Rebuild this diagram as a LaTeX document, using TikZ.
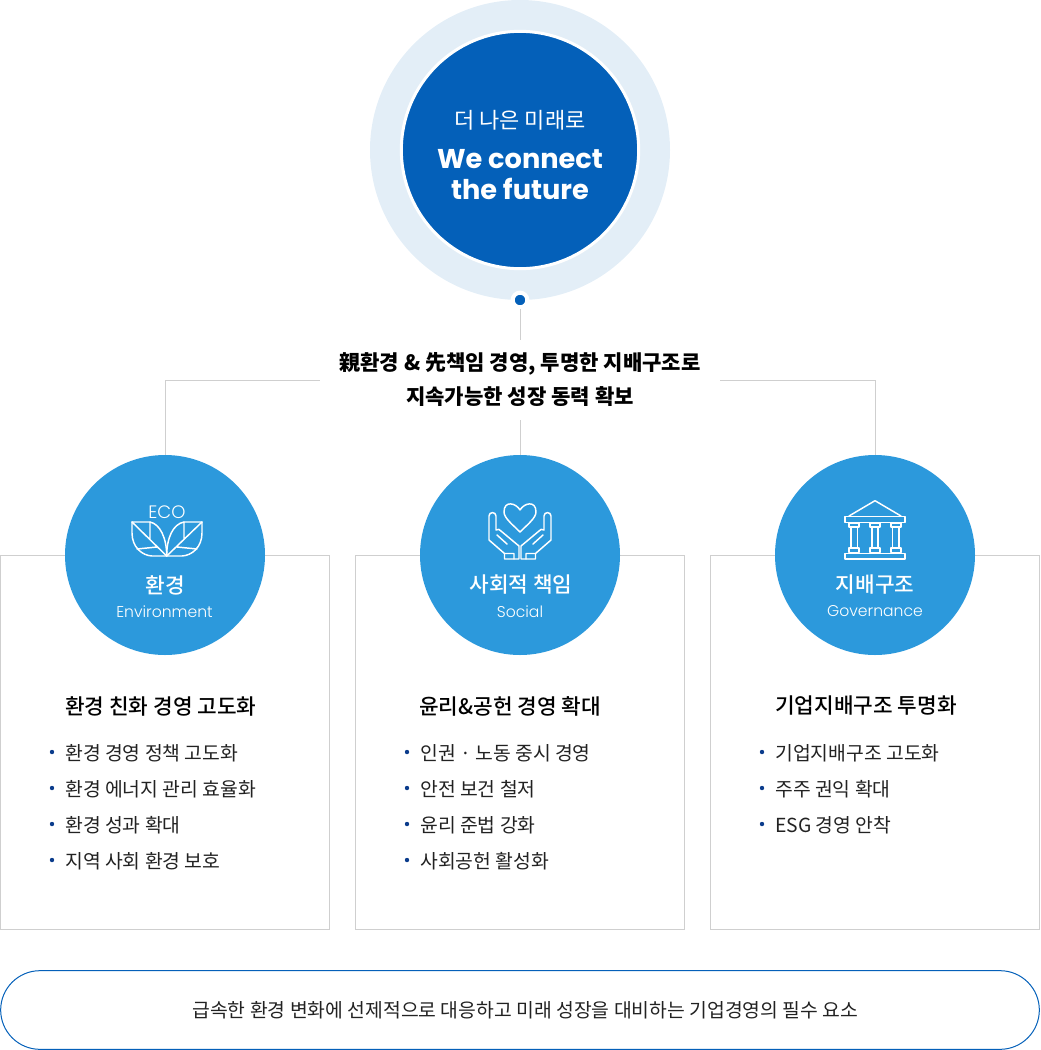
\documentclass[tikz,border=0pt]{standalone}
\usepackage{fontspec}
\setmainfont{Noto Sans CJK KR}
\newfontfamily\mediumfont{Noto Sans CJK KR Medium}
\newfontfamily\latinfont{Poppins}
\newfontfamily\thinfont{Poppins Light}
\definecolor{paleblue}{HTML}{E3EEF7}
\definecolor{deepblue}{HTML}{0460B9}
\definecolor{skyblue}{HTML}{2C99DC}
\definecolor{boxline}{HTML}{CFCFCF}
\definecolor{bodytext}{HTML}{222222}
\definecolor{dotblue}{HTML}{0B3C8C}
\tikzset{
  wire/.style={draw=boxline,line width=0.75pt},
  card/.style={draw=boxline,line width=0.75pt,fill=white},
  badge/.style={circle,fill=skyblue,minimum size=150pt,inner sep=0pt},
  icon/.style={draw=white,line width=1.1pt,line join=round,line cap=round},
  badgetitle/.style={white,font=\mediumfont\fontsize{16}{16}\selectfont},
  badgesub/.style={white,font=\thinfont\fontsize{11.7}{11.7}\selectfont},
  cardhead/.style={anchor=west,inner sep=0pt,text=black,font=\mediumfont\fontsize{16}{16}\selectfont},
  carditem/.style={anchor=west,inner sep=0pt,text=bodytext,font=\fontsize{14.5}{14.5}\selectfont},
}
\begin{document}
\begin{tikzpicture}[x=0.75pt,y=-0.75pt]
  \useasboundingbox (0,0) rectangle (1040,1050);
  % top circle
  \node[circle,fill=paleblue,minimum size=225pt,inner sep=0pt] (halo) at (520,150) {};
  \node[circle,fill=deepblue,draw=white,line width=2.25pt,minimum size=178pt,inner sep=0pt] (core) at (520,150) {};
  \node[white,font=\fontsize{16.5}{16.5}\selectfont] (slogan) at (520,120) {더 나은 미래로};
  \node[white,align=center,font=\latinfont\bfseries\fontsize{20.4}{23.25}\selectfont] (motto) at (520,175) {We connect\\the future};
  \node[circle,fill=deepblue,draw=white,line width=3pt,minimum size=11pt,inner sep=0pt] (knob) at (520,300) {};
  % headline with its connectors
  \node[minimum width=300pt,minimum height=60pt,inner sep=0pt,align=center,text=black,font=\bfseries\fontsize{15.8}{25.5}\selectfont] (headline) at (520,380) {\raisebox{1.7pt}{親환경 \& 先책임 경영, 투명한 지배구조로}\\\raisebox{1.7pt}{지속가능한 성장 동력 확보}};
  % cards
  \draw[card] (0.5,555.5) rectangle (329.5,929.5);
  \draw[card] (355.5,555.5) rectangle (684.5,929.5);
  \draw[card] (710.5,555.5) rectangle (1039.5,929.5);
  \node[badge] (eco) at (165,555) {};
  \node[badge] (social) at (520,555) {};
  \node[badge] (gov) at (875,555) {};
  \draw[wire] (knob) -- (headline);
  \draw[wire] (headline) -- (social);
  \draw[wire] (headline.west) -| (eco);
  \draw[wire] (headline.east) -| (gov);
  % badge texts
  \node[white,font=\thinfont\fontsize{13.5}{13.5}\selectfont] (ecotag) at (167,512) {ECO};
  \node[badgetitle] (ecoko) at (165,585) {환경};
  \node[badgesub] (ecoen) at (164.5,611.5) {Environment};
  \node[badgetitle] (socialko) at (521,585) {사회적 책임};
  \node[badgesub] (socialen) at (520,611.5) {Social};
  \node[badgetitle] (govko) at (875,585) {지배구조};
  \node[badgesub] (goven) at (875,611.5) {Governance};
  % leaves
  \draw[icon] (166.7,556) .. controls (166.7,538) and (160,524) .. (150,522) -- (132,522) -- (132,533) .. controls (132,547) and (142,555.5) .. (152,556) -- (166.7,556);
  \draw[icon] (166.7,556) .. controls (166.7,538) and (173,524) .. (184,522) -- (202,522) -- (202,533) .. controls (202,547) and (192,555.5) .. (182,556) -- (166.7,556);
  \draw[icon] (132,522) -- (166.7,556) (150,522) -- (150,539) (137,549) -- (157,547);
  \draw[icon] (202,522) -- (166.7,556) (184,522) -- (184,539) (197,549) -- (177,547);
  % hands and heart
  \draw[icon] (520,510) .. controls (516,503) and (504,500) .. (504,512) .. controls (504,518) and (513,525) .. (520,532) .. controls (527,525) and (536,518) .. (536,512) .. controls (536,500) and (524,503) .. (520,510) -- cycle;
  \draw[icon] (489,540) -- (489,516) .. controls (489,511.5) and (496,511.5) .. (496,516) -- (496,530) .. controls (498,528) and (500,530) .. (501,531) -- (519,546) -- (519,559) -- (504.5,559) -- (504.5,553.5) -- (489,540);
  \draw[icon] (504.5,553.5) -- (514,553.5) -- (514,559) (497,535) -- (507,544);
  \draw[icon] (551,540) -- (551,516) .. controls (551,511.5) and (544,511.5) .. (544,516) -- (544,530) .. controls (542,528) and (540,530) .. (539,531) -- (521,546) -- (521,559) -- (535.5,559) -- (535.5,553.5) -- (551,540);
  \draw[icon] (535.5,553.5) -- (526,553.5) -- (526,559) (543,535) -- (533,544);
  % temple
  \draw[icon] (849,516) -- (875,500.7) -- (901,516);
  \draw[icon] (845,516.7) rectangle (905,522.3);
  \draw[icon] (845,553.3) rectangle (905,559);
  \draw[icon] (849,523) rectangle (859,527) (851,527) rectangle (857.5,548) (849,548) rectangle (859,552.5);
  \draw[icon] (870,523) rectangle (880,527) (872,527) rectangle (878,548) (870,548) rectangle (880,552.5);
  \draw[icon] (891,523) rectangle (901,527) (892.7,527) rectangle (899,548) (891,548) rectangle (901,552.5);
  % card one
  \node[cardhead] (ecohead) at (65,706) {환경 친화 경영 고도화};
  \node[carditem] (ecoa) at (65,753) {환경 경영 정책 고도화};
  \node[carditem] (ecob) at (65,789) {환경 에너지 관리 효율화};
  \node[carditem] (ecoc) at (65,825) {환경 성과 확대};
  \node[carditem] (ecod) at (65,861) {지역 사회 환경 보호};
  \fill[dotblue] (52,752) circle (2.2) (52,788) circle (2.2) (52,824) circle (2.2) (52,860) circle (2.2);
  % card two
  \node[cardhead] (socialhead) at (419,706) {윤리\&공헌 경영 확대};
  \node[carditem] (sociala) at (420,753) {인권 · 노동 중시 경영};
  \node[carditem] (socialb) at (420,789) {안전 보건 철저};
  \node[carditem] (socialc) at (420,825) {윤리 준법 강화};
  \node[carditem] (sociald) at (420,861) {사회공헌 활성화};
  \fill[dotblue] (407,752) circle (2.2) (407,788) circle (2.2) (407,824) circle (2.2) (407,860) circle (2.2);
  % card three
  \node[cardhead] (govhead) at (775,706) {기업지배구조 투명화};
  \node[carditem] (gova) at (775,753) {기업지배구조 고도화};
  \node[carditem] (govb) at (775,789) {주주 권익 확대};
  \node[carditem] (govc) at (775,825) {ESG 경영 안착};
  \fill[dotblue] (762,752) circle (2.2) (762,788) circle (2.2) (762,824) circle (2.2);
  % bottom pill
  \node[draw=deepblue,line width=0.75pt,rounded corners=29.5pt,minimum width=779pt,minimum height=59pt,inner sep=0pt,text=bodytext,font=\fontsize{14.5}{14.5}\selectfont] (closing) at (520,1010) {\hspace*{8pt}급속한 환경 변화에 선제적으로 대응하고 미래 성장을 대비하는 기업경영의 필수 요소};
\end{tikzpicture}
\end{document}
